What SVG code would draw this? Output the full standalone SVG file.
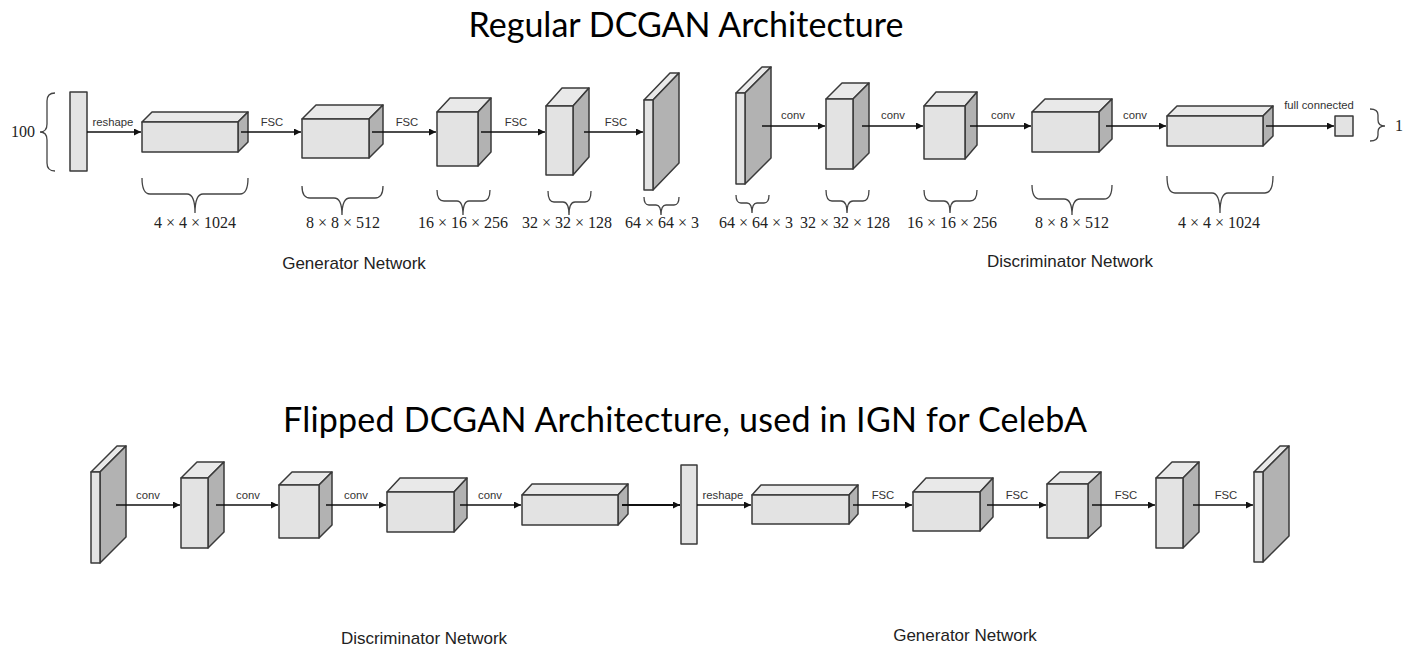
<svg xmlns="http://www.w3.org/2000/svg" width="1418" height="652" viewBox="0 0 1418 652">
<style>
.bg{fill:#ffffff}
.fr{fill:#e3e3e3;stroke:#3a3a3a;stroke-width:1.5;stroke-linejoin:round}
.tp{fill:#e9e9e9;stroke:#3a3a3a;stroke-width:1.5;stroke-linejoin:round}
.rt{fill:#b2b2b2;stroke:#3a3a3a;stroke-width:1.5;stroke-linejoin:round}
.ln{stroke:#111;stroke-width:1.6;fill:none}
.br{stroke:#444;stroke-width:1.3;fill:none}
.title{font-family:Lato,"Liberation Sans",sans-serif;font-size:34px;fill:#000;text-anchor:middle}
.lbl{font-family:"Liberation Sans",Arial,sans-serif;font-size:11.3px;fill:#333;text-anchor:middle}
.net{font-family:"Liberation Sans",Arial,sans-serif;font-size:17px;fill:#222;text-anchor:middle}
.dim{font-family:"Liberation Serif","DejaVu Serif",serif;font-size:16px;fill:#222;text-anchor:middle}
</style>
<defs>
<marker id="ah" viewBox="0 0 10 10" refX="10" refY="5" markerUnits="userSpaceOnUse" markerWidth="8" markerHeight="7" orient="auto">
<path d="M0,0 L10,5 L0,10 z" fill="#111"/>
</marker>
</defs>
<rect class="bg" x="0" y="0" width="1418" height="652"/>

<text class="title" x="686" y="37" textLength="435">Regular DCGAN Architecture</text>
<text class="title" x="685" y="432" textLength="804">Flipped DCGAN Architecture, used in IGN for CelebA</text>

<!-- ===== Top row: Generator ===== -->
<g id="top-input">
<path class="br" d="M55,93 Q47,93 47,101 L47,124 Q47,132 40,132 Q47,132 47,140 L47,163 Q47,171 55,171"/>
<text class="dim" x="35" y="137" style="text-anchor:end">100</text>
<rect class="fr" x="70" y="92" width="17" height="79"/>
</g>
<g id="top-g1">
<polygon class="tp" points="142,122 152,112 248,112 238,122"/>
<polygon class="rt" points="238,122 248,112 248,142 238,152"/>
<rect class="fr" x="142" y="122" width="96" height="30"/>
</g>
<g id="top-g2">
<polygon class="tp" points="302,119 316,105 383,105 369,119"/>
<polygon class="rt" points="369,119 383,105 383,144 369,158"/>
<rect class="fr" x="302" y="119" width="67" height="39"/>
</g>
<g id="top-g3">
<polygon class="tp" points="437,112 450,98 491,98 478,112"/>
<polygon class="rt" points="478,112 491,98 491,152 478,166"/>
<rect class="fr" x="437" y="112" width="41" height="54"/>
</g>
<g id="top-g4">
<polygon class="tp" points="546,106 562,88 589,88 573,106"/>
<polygon class="rt" points="573,106 589,88 589,157 573,175"/>
<rect class="fr" x="546" y="106" width="27" height="69"/>
</g>
<g id="top-g5">
<polygon class="tp" points="644,100 670,73 679,73 653,100"/>
<polygon class="rt" points="653,100 679,73 679,163 653,190"/>
<rect class="fr" x="644" y="100" width="9" height="90"/>
</g>

<!-- ===== Top row: Discriminator ===== -->
<g id="top-d1">
<polygon class="tp" points="736,93 762,67 771,67 745,93"/>
<polygon class="rt" points="745,93 771,67 771,158 745,184"/>
<rect class="fr" x="736" y="93" width="9" height="91"/>
</g>
<g id="top-d2">
<polygon class="tp" points="826,99 842,83 869,83 853,99"/>
<polygon class="rt" points="853,99 869,83 869,153 853,169"/>
<rect class="fr" x="826" y="99" width="27" height="70"/>
</g>
<g id="top-d3">
<polygon class="tp" points="924,106 936,92 977,92 965,106"/>
<polygon class="rt" points="965,106 977,92 977,145 965,159"/>
<rect class="fr" x="924" y="106" width="41" height="53"/>
</g>
<g id="top-d4">
<polygon class="tp" points="1032,112 1045,99 1112,99 1099,112"/>
<polygon class="rt" points="1099,112 1112,99 1112,139 1099,152"/>
<rect class="fr" x="1032" y="112" width="67" height="40"/>
</g>
<g id="top-d5">
<polygon class="tp" points="1167,116 1177,106 1273,106 1263,116"/>
<polygon class="rt" points="1263,116 1273,106 1273,136 1263,146"/>
<rect class="fr" x="1167" y="116" width="96" height="30"/>
</g>
<g id="top-out">
<rect class="fr" x="1335" y="116" width="18" height="20"/>
<path class="br" d="M1370,109 Q1378,109 1378,115 L1378,120 Q1378,126 1385,126 Q1378,126 1378,132 L1378,135 Q1378,141 1370,141"/>
<text class="dim" x="1399" y="131">1</text>
</g>

<!-- top braces + dimension labels -->
<g id="top-dims">
<path class="br" d="M142,178 Q142,194 150,194 H187 Q195,194 195,213 Q195,194 203,194 H240 Q248,194 248,178"/>
<path class="br" d="M302,186 Q302,198 310,198 H334 Q342,198 342,215 Q342,198 350,198 H375 Q383,198 383,186"/>
<path class="br" d="M437,190 Q437,201 444,201 H457 Q463,201 463,215 Q463,201 469,201 H483 Q490,201 490,190"/>
<path class="br" d="M548,191 Q548,202 554,202 H563 Q569,202 569,215 Q569,202 575,202 H585 Q591,202 591,191"/>
<path class="br" d="M644,197 Q644,205 649,205 H656 Q661,205 661,215 Q661,205 666,205 H674 Q679,205 679,197"/>
<path class="br" d="M736,195 Q736,203 741,203 H747 Q752,203 752,213 Q752,203 757,203 H764 Q769,203 769,195"/>
<path class="br" d="M826,190 Q826,201 832,201 H841 Q847,201 847,213 Q847,201 853,201 H863 Q869,201 869,190"/>
<path class="br" d="M924,190 Q924,201 931,201 H944 Q950,201 950,213 Q950,201 956,201 H970 Q977,201 977,190"/>
<path class="br" d="M1032,185 Q1032,199 1040,199 H1064 Q1072,199 1072,215 Q1072,199 1080,199 H1104 Q1112,199 1112,185"/>
<path class="br" d="M1167,176 Q1167,193 1175,193 H1212 Q1220,193 1220,213 Q1220,193 1228,193 H1265 Q1273,193 1273,176"/>
<text class="dim" x="195" y="228">4 × 4 × 1024</text>
<text class="dim" x="343" y="228">8 × 8 × 512</text>
<text class="dim" x="463" y="228">16 × 16 × 256</text>
<text class="dim" x="567" y="228">32 × 32 × 128</text>
<text class="dim" x="662" y="228">64 × 64 × 3</text>
<text class="dim" x="756" y="228">64 × 64 × 3</text>
<text class="dim" x="845" y="228">32 × 32 × 128</text>
<text class="dim" x="952" y="228">16 × 16 × 256</text>
<text class="dim" x="1072" y="228">8 × 8 × 512</text>
<text class="dim" x="1219" y="228">4 × 4 × 1024</text>
</g>

<text class="net" x="354" y="269">Generator Network</text>
<text class="net" x="1070" y="267">Discriminator Network</text>

<!-- ===== Bottom row: Discriminator ===== -->
<g id="bot-d1">
<polygon class="tp" points="91,472 117,446 126,446 100,472"/>
<polygon class="rt" points="100,472 126,446 126,537 100,563"/>
<rect class="fr" x="91" y="472" width="9" height="91"/>
</g>
<g id="bot-d2">
<polygon class="tp" points="181,478 197,462 224,462 208,478"/>
<polygon class="rt" points="208,478 224,462 224,532 208,548"/>
<rect class="fr" x="181" y="478" width="27" height="70"/>
</g>
<g id="bot-d3">
<polygon class="tp" points="279,485 292,472 332,472 319,485"/>
<polygon class="rt" points="319,485 332,472 332,525 319,538"/>
<rect class="fr" x="279" y="485" width="40" height="53"/>
</g>
<g id="bot-d4">
<polygon class="tp" points="387,492 400,478 467,478 454,492"/>
<polygon class="rt" points="454,492 467,478 467,518 454,532"/>
<rect class="fr" x="387" y="492" width="67" height="40"/>
</g>
<g id="bot-d5">
<polygon class="tp" points="522,495 532,484 628,484 618,495"/>
<polygon class="rt" points="618,495 628,484 628,514 618,525"/>
<rect class="fr" x="522" y="495" width="96" height="30"/>
</g>
<g id="bot-vec">
<rect class="fr" x="681" y="465" width="16" height="79"/>
</g>

<!-- ===== Bottom row: Generator ===== -->
<g id="bot-g1">
<polygon class="tp" points="752,495 761,485 858,485 849,495"/>
<polygon class="rt" points="849,495 858,485 858,514 849,524"/>
<rect class="fr" x="752" y="495" width="97" height="29"/>
</g>
<g id="bot-g2">
<polygon class="tp" points="913,492 926,478 993,478 980,492"/>
<polygon class="rt" points="980,492 993,478 993,517 980,531"/>
<rect class="fr" x="913" y="492" width="67" height="39"/>
</g>
<g id="bot-g3">
<polygon class="tp" points="1047,484 1060,472 1101,472 1088,484"/>
<polygon class="rt" points="1088,484 1101,472 1101,526 1088,538"/>
<rect class="fr" x="1047" y="484" width="41" height="54"/>
</g>
<g id="bot-g4">
<polygon class="tp" points="1156,478 1172,462 1199,462 1183,478"/>
<polygon class="rt" points="1183,478 1199,462 1199,532 1183,548"/>
<rect class="fr" x="1156" y="478" width="27" height="70"/>
</g>
<g id="bot-g5">
<polygon class="tp" points="1254,472 1280,446 1289,446 1263,472"/>
<polygon class="rt" points="1263,472 1289,446 1289,536 1263,562"/>
<rect class="fr" x="1254" y="472" width="9" height="90"/>
</g>

<text class="net" x="424" y="644">Discriminator Network</text>
<text class="net" x="965" y="641">Generator Network</text>

<!-- ===== Connectors ===== -->
<g id="connectors">
<line class="ln" x1="87" y1="132" x2="141" y2="132" marker-end="url(#ah)"/>
<line class="ln" x1="241" y1="132" x2="301" y2="132" marker-end="url(#ah)"/>
<line class="ln" x1="372" y1="132" x2="436" y2="132" marker-end="url(#ah)"/>
<line class="ln" x1="481" y1="132" x2="545" y2="132" marker-end="url(#ah)"/>
<line class="ln" x1="584" y1="132" x2="643" y2="132" marker-end="url(#ah)"/>
<line class="ln" x1="762" y1="126" x2="825" y2="126" marker-end="url(#ah)"/>
<line class="ln" x1="862" y1="126" x2="923" y2="126" marker-end="url(#ah)"/>
<line class="ln" x1="970" y1="126" x2="1031" y2="126" marker-end="url(#ah)"/>
<line class="ln" x1="1106" y1="126" x2="1166" y2="126" marker-end="url(#ah)"/>
<line class="ln" x1="1266" y1="126" x2="1334" y2="126" marker-end="url(#ah)"/>
<line class="ln" x1="116" y1="505" x2="180" y2="505" marker-end="url(#ah)"/>
<line class="ln" x1="216" y1="505" x2="278" y2="505" marker-end="url(#ah)"/>
<line class="ln" x1="326" y1="505" x2="386" y2="505" marker-end="url(#ah)"/>
<line class="ln" x1="460" y1="505" x2="521" y2="505" marker-end="url(#ah)"/>
<line class="ln" x1="622" y1="505" x2="680" y2="505" marker-end="url(#ah)" style="stroke-width:2"/>
<line class="ln" x1="697" y1="505" x2="751" y2="505" marker-end="url(#ah)"/>
<line class="ln" x1="853" y1="505" x2="912" y2="505" marker-end="url(#ah)"/>
<line class="ln" x1="987" y1="505" x2="1046" y2="505" marker-end="url(#ah)"/>
<line class="ln" x1="1092" y1="505" x2="1155" y2="505" marker-end="url(#ah)"/>
<line class="ln" x1="1193" y1="505" x2="1253" y2="505" marker-end="url(#ah)"/>
<text class="lbl" x="113" y="126">reshape</text>
<text class="lbl" x="272" y="126">FSC</text>
<text class="lbl" x="407" y="126">FSC</text>
<text class="lbl" x="516" y="126">FSC</text>
<text class="lbl" x="616" y="126">FSC</text>
<text class="lbl" x="793" y="119">conv</text>
<text class="lbl" x="893" y="119">conv</text>
<text class="lbl" x="1003" y="119">conv</text>
<text class="lbl" x="1135" y="119">conv</text>
<text class="lbl" x="1319" y="109">full connected</text>
<text class="lbl" x="148" y="499">conv</text>
<text class="lbl" x="248" y="499">conv</text>
<text class="lbl" x="356" y="499">conv</text>
<text class="lbl" x="490" y="499">conv</text>
<text class="lbl" x="723" y="499">reshape</text>
<text class="lbl" x="883" y="499">FSC</text>
<text class="lbl" x="1017" y="499">FSC</text>
<text class="lbl" x="1126" y="499">FSC</text>
<text class="lbl" x="1226" y="499">FSC</text>
</g>
</svg>
